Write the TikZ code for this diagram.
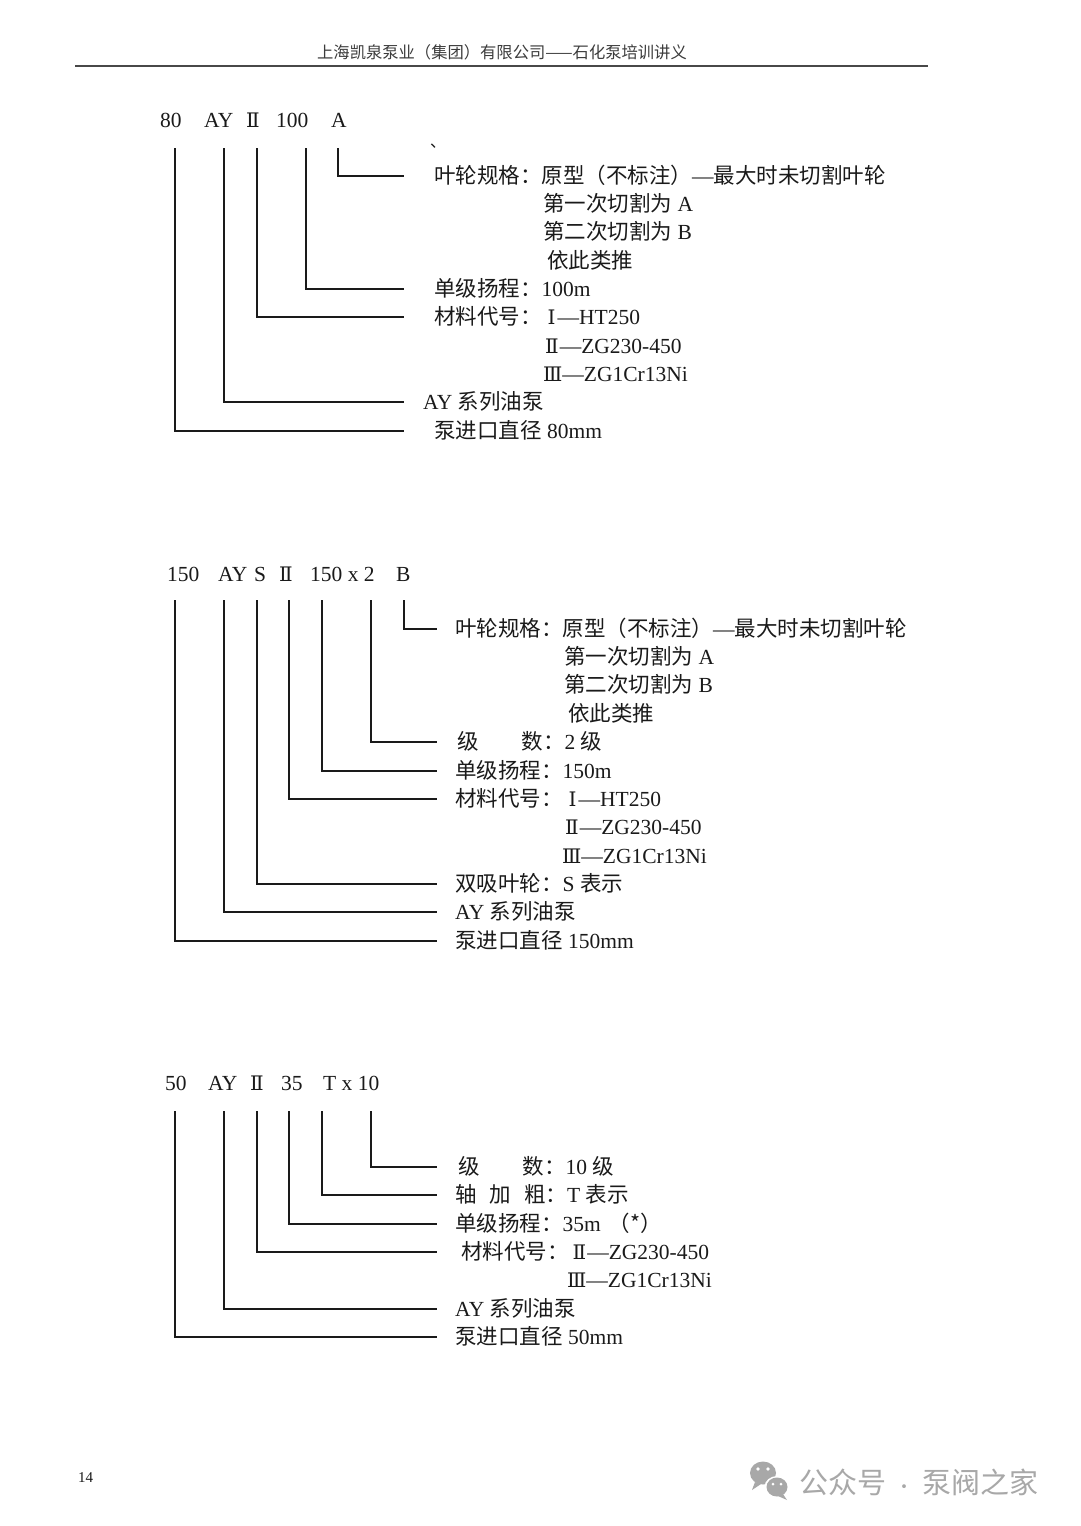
\documentclass[tikz,border=0pt]{standalone}
\usepackage{fontspec}
\setmainfont{Liberation Serif}
\newfontfamily\zh{Noto Sans CJK SC}
\newfontfamily\rmnum{DejaVu Serif}
\newcommand{\rI}{{\rmnum\fontsize{20}{22}\selectfont Ⅰ}}
\newcommand{\rII}{{\rmnum\fontsize{20}{22}\selectfont Ⅱ}}
\newcommand{\rIII}{{\rmnum\fontsize{20}{22}\selectfont Ⅲ}}
\definecolor{ink}{HTML}{1A1A1A}
\definecolor{wm}{HTML}{A8A8A8}
\begin{document}
\begin{tikzpicture}[x=1pt,y=-1pt,
  txt/.style={anchor=west,inner sep=0pt,text height=19pt,text depth=3.5pt,
    font=\fontsize{21.5}{24}\selectfont,text=ink},
  conn/.style={draw=ink,line width=1.3pt}]
\useasboundingbox (0,0) rectangle (1080,1526);
\fill[white] (0,0) rectangle (1080,1526);

% ---------- page header ----------
\node[anchor=center,inner sep=0pt,font=\zh\fontsize{16.3}{18}\selectfont,text=ink!85] (title) at (502,52)
  {上海凯泉泵业（集团）有限公司——石化泵培训讲义};
\coordinate (hl) at (75,66);
\coordinate (hr) at (928,66);
\draw[draw=ink!80,line width=1.6pt] (hl) -- (hr);

% ---------- block 1 ----------
\node[txt] (h1a) at (160,120) {80};
\node[txt] (h1b) at (204,120) {AY};
\node[txt] (h1c) at (246,120) {\rII};
\node[txt] (h1d) at (276,120) {100};
\node[txt] (h1e) at (331,120) {A};
\node[inner sep=0pt,anchor=base west,font=\zh\fontsize{16}{18}\selectfont,text=ink] (tick) at (430,147) {、};

\coordinate (v1a) at (175,148);
\coordinate (v1b) at (224,148);
\coordinate (v1c) at (257,148);
\coordinate (v1d) at (306,148);
\coordinate (v1e) at (338,148);

\node[txt] (l1a) at (434,176) {{\zh 叶轮规格：原型（不标注）}—{\zh 最大时未切割叶轮}};
\node[txt] (l1b) at (543,204) {{\zh 第一次切割为} A};
\node[txt] (l1c) at (543,232) {{\zh 第二次切割为} B};
\node[txt] (l1d) at (547,261) {{\zh 依此类推}};
\node[txt] (l1e) at (434,289) {{\zh 单级扬程：}100m};
\node[txt] (l1f) at (434,317) {{\zh 材料代号：}\hspace{6pt}\rI\hspace{2pt}—HT250};
\node[txt] (l1g) at (545,346) {\rII\hspace{1pt}—ZG230-450};
\node[txt] (l1h) at (543,374) {\rIII—ZG1Cr13Ni};
\node[txt] (l1i) at (423,402) {AY {\zh 系列油泵}};
\node[txt] (l1j) at (434,431) {{\zh 泵进口直径} 80mm};

\draw[conn] (v1e) |- ([xshift=-30pt]l1a.west);
\draw[conn] (v1d) |- ([xshift=-30pt]l1e.west);
\draw[conn] (v1c) |- ([xshift=-30pt]l1f.west);
\draw[conn] (v1b) |- ([xshift=-19pt]l1i.west);
\draw[conn] (v1a) |- ([xshift=-30pt]l1j.west);

% ---------- block 2 ----------
\node[txt] (h2a) at (167,574) {150};
\node[txt] (h2b) at (218,574) {AY};
\node[txt] (h2c) at (254,574) {S};
\node[txt] (h2d) at (279,574) {\rII};
\node[txt] (h2e) at (310,574) {150 x 2};
\node[txt] (h2f) at (396,574) {B};

\coordinate (v2a) at (175,600);
\coordinate (v2b) at (224,600);
\coordinate (v2c) at (257,600);
\coordinate (v2d) at (289,600);
\coordinate (v2e) at (322,600);
\coordinate (v2f) at (371,600);
\coordinate (v2g) at (404,600);

\node[txt] (l2a) at (455,629) {{\zh 叶轮规格：原型（不标注）}—{\zh 最大时未切割叶轮}};
\node[txt] (l2b) at (564,657) {{\zh 第一次切割为} A};
\node[txt] (l2c) at (564,685) {{\zh 第二次切割为} B};
\node[txt] (l2d) at (568,714) {{\zh 依此类推}};
\node[txt] (l2e) at (457,742) {{\zh 级　　数：}2 {\zh 级}};
\node[txt] (l2f) at (455,771) {{\zh 单级扬程：}150m};
\node[txt] (l2g) at (455,799) {{\zh 材料代号：}\hspace{6pt}\rI\hspace{2pt}—HT250};
\node[txt] (l2h) at (565,827) {\rII\hspace{1pt}—ZG230-450};
\node[txt] (l2i) at (562,856) {\rIII—ZG1Cr13Ni};
\node[txt] (l2j) at (455,884) {{\zh 双吸叶轮：}S {\zh 表示}};
\node[txt] (l2k) at (455,912) {AY {\zh 系列油泵}};
\node[txt] (l2l) at (455,941) {{\zh 泵进口直径} 150mm};

\draw[conn] (v2g) |- ([xshift=-18pt]l2a.west);
\draw[conn] (v2f) |- ([xshift=-20pt]l2e.west);
\draw[conn] (v2e) |- ([xshift=-18pt]l2f.west);
\draw[conn] (v2d) |- ([xshift=-18pt]l2g.west);
\draw[conn] (v2c) |- ([xshift=-18pt]l2j.west);
\draw[conn] (v2b) |- ([xshift=-18pt]l2k.west);
\draw[conn] (v2a) |- ([xshift=-18pt]l2l.west);

% ---------- block 3 ----------
\node[txt] (h3a) at (165,1083) {50};
\node[txt] (h3b) at (208,1083) {AY};
\node[txt] (h3c) at (250,1083) {\rII};
\node[txt] (h3d) at (281,1083) {35};
\node[txt] (h3e) at (323,1083) {T x 10};

\coordinate (v3a) at (175,1111);
\coordinate (v3b) at (224,1111);
\coordinate (v3c) at (257,1111);
\coordinate (v3d) at (289,1111);
\coordinate (v3e) at (322,1111);
\coordinate (v3f) at (371,1111);

\node[txt] (l3a) at (458,1167) {{\zh 级　　数：}10 {\zh 级}};
\node[txt] (l3b) at (455,1195) {{\zh 轴}\hspace{13pt}{\zh 加}\hspace{13pt}{\zh 粗：}T {\zh 表示}};
\node[txt] (l3c) at (455,1224) {{\zh 单级扬程：}35m\hspace{8pt}{\zh （*）}};
\node[txt] (l3d) at (461,1252) {{\zh 材料代号：}\hspace{4pt}\rII\hspace{1pt}—ZG230-450};
\node[txt] (l3e) at (567,1280) {\rIII—ZG1Cr13Ni};
\node[txt] (l3f) at (455,1309) {AY {\zh 系列油泵}};
\node[txt] (l3g) at (455,1337) {{\zh 泵进口直径} 50mm};

\draw[conn] (v3f) |- ([xshift=-21pt]l3a.west);
\draw[conn] (v3e) |- ([xshift=-18pt]l3b.west);
\draw[conn] (v3d) |- ([xshift=-18pt]l3c.west);
\draw[conn] (v3c) |- ([xshift=-24pt]l3d.west);
\draw[conn] (v3b) |- ([xshift=-18pt]l3f.west);
\draw[conn] (v3a) |- ([xshift=-18pt]l3g.west);

% ---------- footer ----------
\node[anchor=west,inner sep=0pt,font=\fontsize{15}{17}\selectfont,text=ink] (pg) at (78,1478) {14};

\fill[wm] (763,1473) ellipse (13 and 11.5);
\fill[wm] (755,1482) -- (752,1490) -- (761,1484) -- cycle;
\fill[white] (777,1487) ellipse (12.5 and 11);
\fill[wm] (777,1487) ellipse (10.5 and 9.5);
\fill[wm] (783,1494) -- (787,1500) -- (778,1496) -- cycle;
\fill[white] (758,1469) circle (1.8) (768,1469) circle (1.8);
\fill[white] (773,1484) circle (1.5) (781,1484) circle (1.5);
\node[anchor=west,inner sep=0pt,font=\zh\fontsize{29}{32}\selectfont,text=wm] (wmk) at (799,1482) {公众号\hspace{9pt}{\fontsize{18}{20}\selectfont ·}\hspace{9pt}泵阀之家};
\end{tikzpicture}
\end{document}
